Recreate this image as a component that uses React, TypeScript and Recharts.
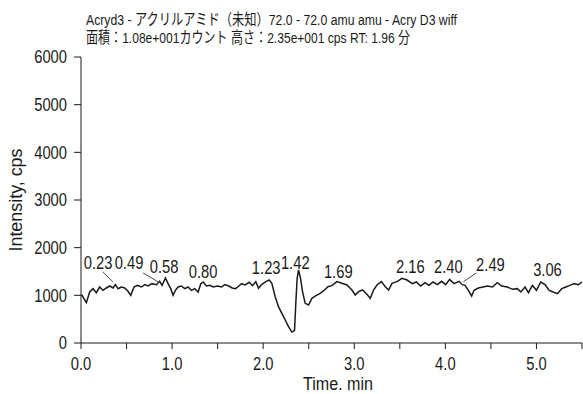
import React from 'react';
import { ComposedChart, Line, XAxis, YAxis, ReferenceDot, ReferenceLine, Label } from 'recharts';

const FONT = '"Liberation Sans", Arial, "Noto Sans CJK JP", sans-serif';
const INK = '#1a1a1a';
const SQUEEZE = 0.82; // reference uses a condensed face

// XIC trace (time in min, intensity in cps)
const times = [
  0.0, 0.011, 0.059, 0.095, 0.132, 0.168, 0.205, 0.242, 0.278, 0.315, 0.352, 0.377, 0.407,
  0.443, 0.48, 0.516, 0.546, 0.582, 0.619, 0.663, 0.7, 0.736, 0.78, 0.828, 0.864, 0.89,
  0.927, 0.956, 0.985, 1.011, 1.036, 1.066, 1.102, 1.139, 1.176, 1.212, 1.249, 1.286, 1.315,
  1.341, 1.377, 1.414, 1.45, 1.498, 1.542, 1.579, 1.623, 1.659, 1.696, 1.733, 1.762,
  1.802, 1.846, 1.883, 1.919, 1.949, 1.985, 2.029, 2.066, 2.095, 2.132, 2.168, 2.205, 2.242,
  2.278, 2.315, 2.344, 2.359, 2.373, 2.388, 2.41, 2.432, 2.461, 2.498, 2.535, 2.579, 2.626,
  2.674, 2.711, 2.754, 2.809, 2.864, 2.919, 2.974, 3.011, 3.047, 3.091, 3.128, 3.176, 3.212,
  3.249, 3.297, 3.341, 3.377, 3.414, 3.469, 3.524, 3.579,
  3.637, 3.681, 3.729, 3.776, 3.82, 3.864, 3.912, 3.959, 4.003, 4.047, 4.095, 4.15, 4.186,
  4.216, 4.252, 4.289, 4.315, 4.362, 4.414, 4.461, 4.516, 4.571, 4.619, 4.681, 4.736, 4.791,
  4.828, 4.875, 4.912, 4.956, 5.0, 5.047, 5.095, 5.139, 5.183, 5.23, 5.278, 5.322, 5.366,
  5.414, 5.461, 5.5,
];
const intensity = [
  1000, 1000, 846, 1070, 1140, 1056, 1175, 1105, 1154, 1196, 1154, 1224, 1140,
  1175, 1154, 1084, 1000, 1175, 1210, 1175, 1224, 1196, 1245, 1224, 1294, 1210,
  1364, 1245, 1140, 1000, 1105, 1175, 1196, 1140, 1175, 1105, 1140, 1070, 1245,
  1280, 1196, 1210, 1175, 1196, 1175, 1224, 1196, 1154, 1140, 1196, 1245,
  1217, 1273, 1203, 1287, 1147, 1231, 1287, 1321, 1252, 972, 762, 622, 483,
  343, 230, 260, 867, 1356, 1531, 1356, 1077, 832, 797, 937, 993, 1042,
  1112, 1182, 1203, 1287, 1252, 1217, 1112, 1007, 1077, 1112, 1042, 937, 1112,
  1217, 1287, 1182, 1112, 1252, 1287, 1356, 1321,
  1245, 1280, 1196, 1265, 1210, 1280, 1224, 1294, 1224, 1335, 1245, 1294, 1224,
  1210, 1105, 986, 1105, 1154, 1175, 1196, 1175, 1265, 1196, 1175, 1126, 1140,
  1070, 1175, 1056, 1210, 1105, 1280, 1224, 1105, 1070, 1035, 1140, 1175, 1210,
  1245, 1224, 1280,
];

// peak annotations
const peakText = ['0.23', '0.49', '0.58', '0.80', '1.23', '1.42', '1.69', '2.16', '2.40', '2.49', '3.06'];
const peakTime = [0.187, 0.527, 0.912, 1.341, 2.033, 2.352, 2.824, 3.615, 4.033, 4.495, 5.121];
const peakHeight = [1680, 1680, 1600, 1510, 1575, 1680, 1500, 1605, 1605, 1655, 1550];

// leader lines from label to trace: [t1, y1, t2, y2]
const leaders = [
  [0.242, 1490, 0.352, 1280],
  [0.681, 1470, 0.845, 1285],
  [4.341, 1470, 4.198, 1285],
];

const xTicks = [0, 0.5, 1, 1.5, 2, 2.5, 3, 3.5, 4, 4.5, 5, 5.5];
const yTicks = [0, 1000, 2000, 3000, 4000, 5000, 6000];

const titleLine1 = 'Acryd3 - アクリルアミド（未知）72.0 - 72.0 amu amu - Acry D3 wiff';
const titleLine2 = '面積：1.08e+001カウント 高さ：2.35e+001 cps RT: 1.96 分';

const data = times.map((t, i) => ({ t, cps: intensity[i] }));

// condensed text: horizontally squeezed around its anchor point
const Narrow = ({ x, y, anchor = 'middle', dy = '0', size = 18, children }: any) => (
  <text
    transform={`translate(${x} ${y}) scale(${SQUEEZE} 1)`}
    x={0}
    y={0}
    dy={dy}
    textAnchor={anchor}
    fontSize={size}
    fill={INK}
    fontFamily={FONT}
  >
    {children}
  </text>
);

const XTick = (props: any) => {
  const v = props.payload.value;
  if (!Number.isInteger(v)) return null;
  return <Narrow x={props.x} y={props.y} dy="0.71em">{v.toFixed(1)}</Narrow>;
};

const YTick = (props: any) => (
  <Narrow x={props.x} y={props.y} anchor="end" dy="0.36em">{props.payload.value}</Narrow>
);

const App = () => {
  return (
    <div style={{ position: 'relative', width: 583, height: 394, background: '#fff' }}>
      <style>{`body{margin:0}`}</style>
      <svg width={583} height={60} style={{ position: 'absolute', left: 0, top: 0 }}>
        <text x={86} y={25} fontSize={15.5} fill={INK} fontFamily={FONT} textLength={371} lengthAdjust="spacingAndGlyphs">
          {titleLine1}
        </text>
        <text x={86} y={43} fontSize={15.5} fill={INK} fontFamily={FONT} textLength={324} lengthAdjust="spacingAndGlyphs">
          {titleLine2}
        </text>
      </svg>
      <div style={{ position: 'absolute', left: 0, top: 0 }}>
        <ComposedChart width={583} height={394} data={data} margin={{ top: 57, right: 1, bottom: 0, left: 0 }}>
          <XAxis
            type="number"
            dataKey="t"
            domain={[0, 5.5]}
            ticks={xTicks}
            interval={0}
            height={51}
            tickSize={6}
            tickMargin={8}
            stroke={INK}
            tick={<XTick />}
          >
            <Label
              content={() => (
                <text
                  x={338}
                  y={390}
                  textAnchor="middle"
                  fontSize={18}
                  fill={INK}
                  fontFamily={FONT}
                  textLength={70}
                  lengthAdjust="spacingAndGlyphs"
                >
                  Time. min
                </text>
              )}
            />
          </XAxis>
          <YAxis
            type="number"
            domain={[0, 6000]}
            ticks={yTicks}
            interval={0}
            width={81}
            tickSize={7}
            tickMargin={7}
            stroke={INK}
            tick={<YTick />}
          >
            <Label
              content={() => (
                <text
                  x={22}
                  y={200}
                  transform="rotate(-90 22 200)"
                  textAnchor="middle"
                  fontSize={18}
                  fill={INK}
                  fontFamily={FONT}
                  textLength={103}
                  lengthAdjust="spacingAndGlyphs"
                >
                  Intensity, cps
                </text>
              )}
            />
          </YAxis>
          <Line
            type="linear"
            dataKey="cps"
            stroke={INK}
            strokeWidth={1.5}
            dot={false}
            isAnimationActive={false}
          />
          {leaders.map((l, i) => (
            <ReferenceLine
              key={`ld-${i}`}
              segment={[{ x: l[0], y: l[1] }, { x: l[2], y: l[3] }]}
              stroke={INK}
              strokeWidth={0.8}
            />
          ))}
          {peakText.map((p, i) => (
            <ReferenceDot
              key={`pk-${i}`}
              x={peakTime[i]}
              y={peakHeight[i]}
              r={1}
              shape={(s: any) => <Narrow x={s.cx} y={s.cy} dy="0.36em">{p}</Narrow>}
            />
          ))}
        </ComposedChart>
      </div>
    </div>
  );
};

export default App;
